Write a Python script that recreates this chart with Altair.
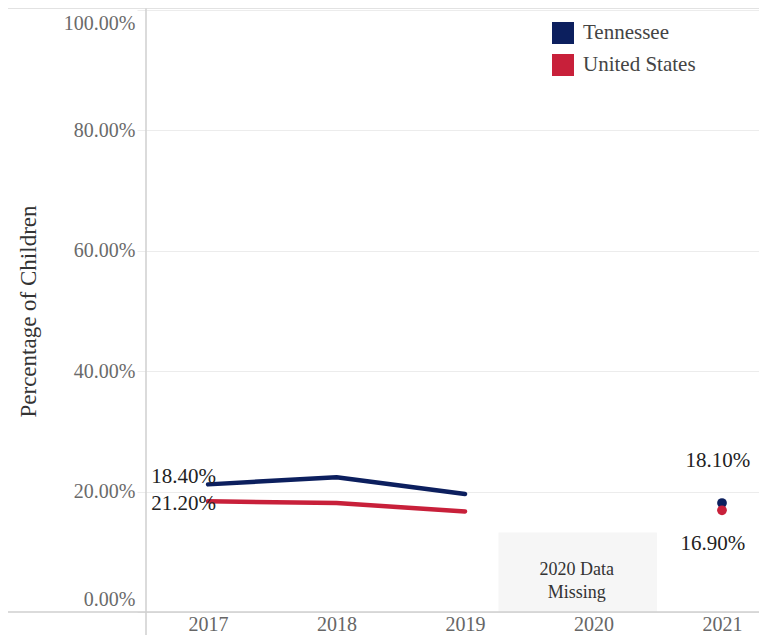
import altair as alt
import pandas as pd

# ---------------- data ----------------
years = [2017, 2018, 2019, 2021]
tennessee = [21.2, 22.4, 19.6, 18.1]
united_states = [18.4, 18.1, 16.7, 16.9]
series_names = ["Tennessee", "United States"]
series_colors = ["#0c1f5e", "#c8203a"]
y_ticks = [0, 20, 40, 60, 80, 100]
x_ticks = [2017, 2018, 2019, 2020, 2021]
missing_year = [2020]
missing_text = ["2020 Data", "Missing"]

rows = []
for name, vals in zip(series_names, [tennessee, united_states]):
    for yr, v in zip(years, vals):
        rows.append({"year": yr, "series": name, "value": v, "label": f"{v:.2f}%"})
df = pd.DataFrame(rows)
miss = pd.DataFrame({"year": missing_year})

# ---------------- style ----------------
W, H = 613, 602
FONT = "Liberation Serif"
GRID = "#ececec"
AXIS = "#cfcfcf"

xscale = alt.Scale(domain=[2016.517, 2021.288], nice=False, zero=False)
yscale = alt.Scale(domain=[0, 100], nice=False, zero=True)
cscale = alt.Scale(domain=series_names, range=series_colors)

x_enc = alt.X(
    "year:Q", scale=xscale,
    axis=alt.Axis(values=x_ticks, format="d", title=None, grid=False, ticks=False,
                  domain=False, labelFont=FONT, labelFontSize=20, labelColor="#666666",
                  labelPadding=2),
)
y_enc = alt.Y(
    "value:Q", scale=yscale,
    axis=alt.Axis(values=y_ticks, labelExpr="format(datum.value, '.2f') + '%'",
                  title="Percentage of Children", titleFont=FONT, titleFontSize=23,
                  titleFontWeight="normal", titleColor="#333333", titleX=-106,
                  labelFont=FONT, labelFontSize=20, labelColor="#6a6a6a",
                  grid=True, gridColor=GRID, tickColor=GRID, tickSize=9,
                  labelPadding=2, domain=False, labelFlush=True, labelFlushOffset=-3),
)

legend = alt.Legend(title=None, orient="none", legendX=406, legendY=12,
                    symbolType="square", symbolSize=484, symbolStrokeWidth=0,
                    symbolOpacity=1, labelFont=FONT, labelFontSize=21,
                    labelColor="#444444", labelOffset=9, rowPadding=10, padding=0)

base = alt.Chart(df)

lines = base.transform_filter("datum.year <= 2019").mark_line(
    strokeWidth=4.5, strokeCap="round", strokeJoin="round"
).encode(
    x=x_enc, y=y_enc,
    color=alt.Color("series:N", scale=cscale, legend=legend),
)

points = base.transform_filter("datum.year == 2021").mark_circle(
    size=95, opacity=1
).encode(
    x=alt.X("year:Q", scale=xscale),
    y=alt.Y("value:Q", scale=yscale),
    color=alt.Color("series:N", scale=cscale, legend=legend),
)


def label_layer(series, year, dx, dy, align):
    return base.transform_filter(
        f"datum.series == '{series}' && datum.year == {year}"
    ).mark_text(font=FONT, fontSize=21, color="#222222", dx=dx, dy=dy,
                align=align, baseline="middle").encode(
        x=alt.X("year:Q", scale=xscale),
        y=alt.Y("value:Q", scale=yscale),
        text="label:N",
    )


labels = [
    label_layer("United States", 2017, 8, -24, "right"),
    label_layer("Tennessee", 2017, 8, 20, "right"),
    label_layer("Tennessee", 2021, -4, -42, "center"),
    label_layer("United States", 2021, -9, 34, "center"),
]

box = alt.Chart(miss).transform_calculate(
    x0="datum.year - 0.74", x1="datum.year + 0.494", y0="0", y1="13.2",
).mark_rect(color="#f6f6f6").encode(
    x=alt.X("x0:Q", scale=xscale), x2="x1:Q",
    y=alt.Y("y0:Q", scale=yscale), y2="y1:Q",
)
box_text = alt.Chart(miss).transform_calculate(
    tx="datum.year - 0.13", ty="6.9",
).mark_text(text=missing_text, font=FONT, fontSize=18, color="#333333",
            lineHeight=23, baseline="middle", align="center").encode(
    x=alt.X("tx:Q", scale=xscale),
    y=alt.Y("ty:Q", scale=yscale),
)

yline = alt.Chart(miss).mark_rule(color=AXIS, strokeWidth=1.5).encode(
    x=alt.value(0), y=alt.value(-2), y2=alt.value(H + 25))
xline = alt.Chart(miss).mark_rule(color=AXIS, strokeWidth=1.5).encode(
    x=alt.value(-138), x2=alt.value(W), y=alt.value(H))
topline = alt.Chart(miss).mark_rule(color="#d8d8d8", strokeWidth=1.5).encode(
    x=alt.value(-138), x2=alt.value(W), y=alt.value(-2))

chart = alt.layer(
    box, lines, points, *labels, box_text, yline, xline, topline
).properties(
    width=W, height=H,
    padding={"left": 138, "top": 2, "right": 0, "bottom": 23},
    autosize=alt.AutoSizeParams(type="none"),
    background="white",
).configure_view(stroke=None).configure_legend(
    orient="none", legendX=406, legendY=12
)

chart.save("out.html", embed_options={"renderer": "svg", "actions": False})
